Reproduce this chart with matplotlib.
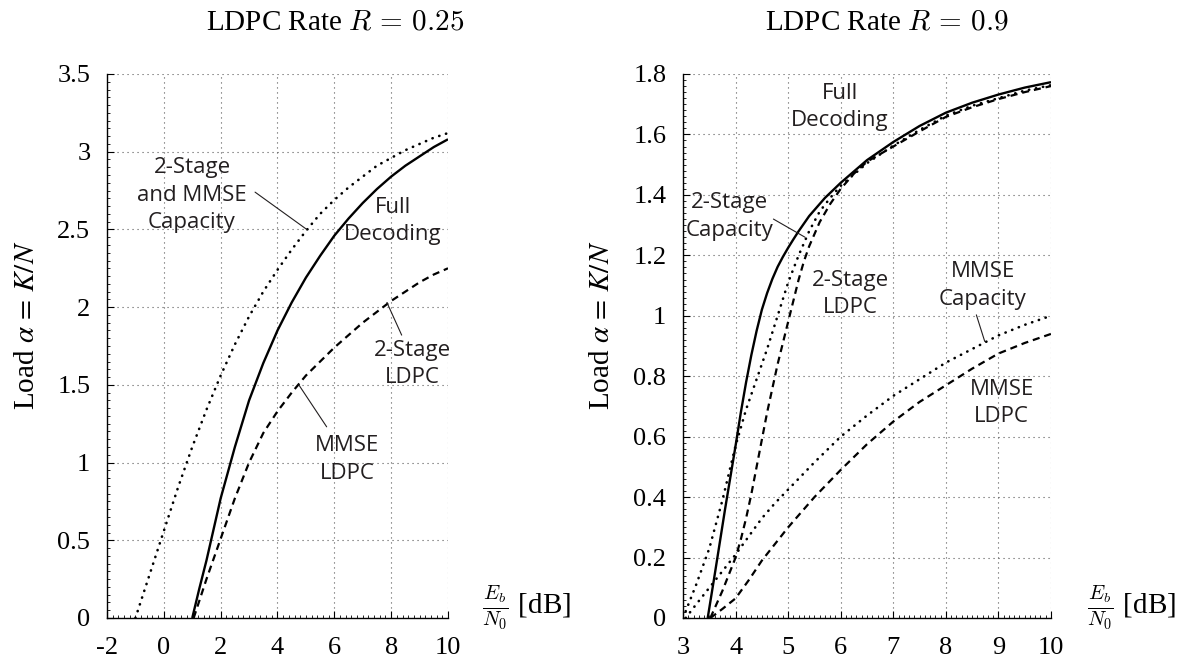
import numpy as np
import matplotlib
matplotlib.use("Agg")
from matplotlib import pyplot as plt
from matplotlib.ticker import AutoMinorLocator, FuncFormatter, MultipleLocator

# ---- LDPC rate R = 0.25 (left panel) ----
full25_x = [1.0, 1.25, 1.5, 1.75, 2.0, 2.5, 3.0, 3.5, 4.0, 4.5, 5.0, 5.5, 6.0, 6.5,
            7.0, 7.5, 8.0, 8.5, 9.0, 9.5, 10.0]
full25_y = [0.0, 0.19, 0.37, 0.57, 0.77, 1.1, 1.4, 1.64, 1.85, 2.03, 2.19, 2.33, 2.46,
            2.57, 2.67, 2.76, 2.84, 2.91, 2.97, 3.03, 3.08]
cap25_x = [-1.0, -0.5, 0.0, 0.5, 1.0, 1.5, 2.0, 2.5, 3.0, 3.5, 4.0, 4.5, 5.0, 5.5,
           6.0, 6.5, 7.0, 7.5, 8.0, 8.5, 9.0, 9.5, 10.0]
cap25_y = [0.0, 0.28, 0.56, 0.84, 1.1, 1.34, 1.56, 1.76, 1.94, 2.1, 2.24, 2.37, 2.49,
           2.6, 2.69, 2.77, 2.84, 2.91, 2.96, 3.01, 3.05, 3.09, 3.12]
ldpc25_x = [1.05, 1.5, 2.0, 2.5, 3.0, 3.5, 4.0, 4.5, 5.0, 5.5, 6.0, 6.5, 7.0, 7.5,
            8.0, 8.5, 9.0, 9.5, 10.0]
ldpc25_y = [0.0, 0.25, 0.51, 0.77, 1.0, 1.19, 1.33, 1.45, 1.56, 1.65, 1.74, 1.82,
            1.9, 1.97, 2.04, 2.1, 2.16, 2.21, 2.25]

# ---- LDPC rate R = 0.9 (right panel) ----
full9_x = [3.47, 3.6, 3.8, 4.0, 4.1, 4.2, 4.3, 4.4, 4.5, 4.6, 4.7, 4.8, 4.9, 5.0,
           5.1, 5.2, 5.4, 5.7, 6.0, 6.5, 7.0, 7.5, 8.0, 8.5, 9.0, 9.5, 10.0]
full9_y = [0.0, 0.14, 0.36, 0.57, 0.68, 0.78, 0.87, 0.95, 1.02, 1.075, 1.122, 1.162,
           1.195, 1.225, 1.253, 1.28, 1.33, 1.39, 1.44, 1.515, 1.575, 1.628, 1.672,
           1.705, 1.732, 1.755, 1.773]
cap2s9_x = [3.0, 3.25, 3.5, 3.75, 4.0, 4.2, 4.4, 4.6, 4.8, 5.0, 5.2, 5.4, 5.6, 5.8,
            6.0, 6.5, 7.0, 7.5, 8.0, 8.5, 9.0, 9.5, 10.0]
cap2s9_y = [0.0, 0.11, 0.23, 0.39, 0.57, 0.69, 0.79, 0.89, 1.0, 1.11, 1.2, 1.28,
            1.345, 1.39, 1.43, 1.505, 1.563, 1.615, 1.662, 1.695, 1.72, 1.745, 1.763]
ldpc2s9_x = [3.52, 3.75, 4.0, 4.1, 4.2, 4.3, 4.4, 4.5, 4.6, 4.7, 4.8, 4.9, 5.0, 5.1,
             5.2, 5.3, 5.4, 5.5, 5.6, 5.8, 6.0, 6.25, 6.5, 7.0, 7.5, 8.0, 8.5, 9.0,
             9.5, 10.0]
ldpc2s9_y = [0.0, 0.09, 0.2, 0.26, 0.33, 0.41, 0.5, 0.59, 0.68, 0.76, 0.84, 0.91,
             0.98, 1.05, 1.12, 1.18, 1.23, 1.27, 1.31, 1.37, 1.42, 1.47, 1.51, 1.56,
             1.61, 1.658, 1.69, 1.717, 1.74, 1.76]
capmm9_x = [3.05, 3.25, 3.5, 3.75, 4.0, 4.25, 4.5, 4.75, 5.0, 5.5, 6.0, 6.5, 7.0,
            7.5, 8.0, 8.5, 9.0, 9.5, 10.0]
capmm9_y = [0.0, 0.045, 0.1, 0.155, 0.21, 0.27, 0.33, 0.38, 0.425, 0.515, 0.6, 0.67,
            0.735, 0.79, 0.845, 0.89, 0.935, 0.97, 1.0]
ldpcmm9_x = [3.52, 3.75, 4.0, 4.25, 4.5, 4.75, 5.0, 5.5, 6.0, 6.5, 7.0, 7.5, 8.0,
             8.5, 9.0, 9.5, 10.0]
ldpcmm9_y = [0.0, 0.03, 0.065, 0.125, 0.19, 0.245, 0.3, 0.4, 0.49, 0.575, 0.65,
             0.715, 0.77, 0.825, 0.875, 0.91, 0.94]

plt.rcParams['font.family'] = ['Liberation Serif', 'DejaVu Serif']
plt.rcParams['mathtext.fontset'] = 'cm'

W, H = 1181, 660
fig = plt.figure(figsize=(W / 100, H / 100), dpi=100)
axl = fig.add_axes([107 / W, 42 / H, 341 / W, 544 / H])
axr = fig.add_axes([683 / W, 42 / H, 368 / W, 544 / H])

ink = '#231f20'
solid = dict(color='black', lw=1.7, ls='-', solid_capstyle='butt',
             solid_joinstyle='round')
dashed = dict(color='black', lw=1.6, ls=(0, (3.2, 2.2)))
dotted = dict(color='black', lw=1.9, ls=(0, (0.1, 2.6)), dash_capstyle='round')
fmt = FuncFormatter(lambda v, p: f"{v:g}")

for ax in (axl, axr):
    ax.spines['top'].set_visible(False)
    ax.spines['right'].set_visible(False)
    ax.spines['left'].set_linewidth(1.0)
    ax.spines['bottom'].set_linewidth(1.0)
    ax.grid(True, which='major', ls=(0, (1, 3.5)), lw=0.8, color='0.35')
    ax.set_axisbelow(True)
    ax.xaxis.set_minor_locator(AutoMinorLocator(10))
    ax.yaxis.set_minor_locator(AutoMinorLocator(10))
    ax.xaxis.set_major_formatter(fmt)
    ax.yaxis.set_major_formatter(fmt)
    ax.tick_params(which='major', direction='in', length=5, width=0.8, labelsize=19)
    ax.tick_params(which='minor', direction='in', length=2.5, width=0.6)
    ax.tick_params(axis='x', which='major', pad=14)
    ax.tick_params(axis='y', which='major', pad=12)


def label(ax, x, y, s):
    ax.text(x, y, s, ha='center', va='center', family='Open Sans',
            fontsize=16, color=ink, linespacing=1.4)


def pointer(ax, start, end):
    ax.annotate('', xy=end, xytext=start,
                arrowprops=dict(arrowstyle='-', lw=0.8, color=ink,
                                shrinkA=0, shrinkB=0))


# left panel
axl.plot(cap25_x, cap25_y, **dotted)
axl.plot(full25_x, full25_y, **solid)
axl.plot(ldpc25_x, ldpc25_y, **dashed)
axl.set_xlim(-2, 10)
axl.set_ylim(0, 3.5)
axl.xaxis.set_major_locator(MultipleLocator(2))
axl.yaxis.set_major_locator(MultipleLocator(0.5))
label(axl, 0.99, 2.72, "2-Stage\nand MMSE\nCapacity")
pointer(axl, (3.21, 2.74), (5.03, 2.5))
label(axl, 8.07, 2.555, "Full\nDecoding")
label(axl, 8.74, 1.635, "2-Stage\nLDPC")
pointer(axl, (8.37, 1.82), (7.85, 2.03))
label(axl, 6.45, 1.02, "MMSE\nLDPC")
pointer(axl, (5.73, 1.23), (4.75, 1.5))

# right panel
axr.plot(cap2s9_x, cap2s9_y, **dotted)
axr.plot(capmm9_x, capmm9_y, **dotted)
axr.plot(full9_x, full9_y, **solid)
axr.plot(ldpc2s9_x, ldpc2s9_y, **dashed)
axr.plot(ldpcmm9_x, ldpcmm9_y, **dashed)
axr.set_xlim(3, 10)
axr.set_ylim(0, 1.8)
axr.xaxis.set_major_locator(MultipleLocator(1))
axr.yaxis.set_major_locator(MultipleLocator(0.2))
label(axr, 5.98, 1.69, "Full\nDecoding")
label(axr, 3.89, 1.328, "2-Stage\nCapacity")
pointer(axr, (4.72, 1.32), (5.32, 1.26))
label(axr, 6.19, 1.073, "2-Stage\nLDPC")
label(axr, 8.70, 1.10, "MMSE\nCapacity")
pointer(axr, (8.58, 1.003), (8.74, 0.915))
label(axr, 9.06, 0.712, "MMSE\nLDPC")

# titles and axis labels
fig.text(335 / W, 1 - 22 / H, r"LDPC Rate $R\,=\,0.25$", ha='center', va='center',
         fontsize=21, math_fontfamily='cm')
fig.text(887 / W, 1 - 22 / H, r"LDPC Rate $R\,=\,0.9$", ha='center', va='center',
         fontsize=21, math_fontfamily='cm')
for xpix in (27, 602):
    fig.text(xpix / W, 1 - 325 / H, r"Load $\alpha\,=\,K/N$", rotation=90,
             ha='center', va='center', fontsize=21, math_fontfamily='stix')
for xpix in (482, 1087):
    fig.text(xpix / W, 1 - 607 / H, r"$\frac{E_b}{N_0}$ [dB]", ha='left',
             va='center', fontsize=21, math_fontfamily='cm')

plt.savefig("out.png", dpi=100)
